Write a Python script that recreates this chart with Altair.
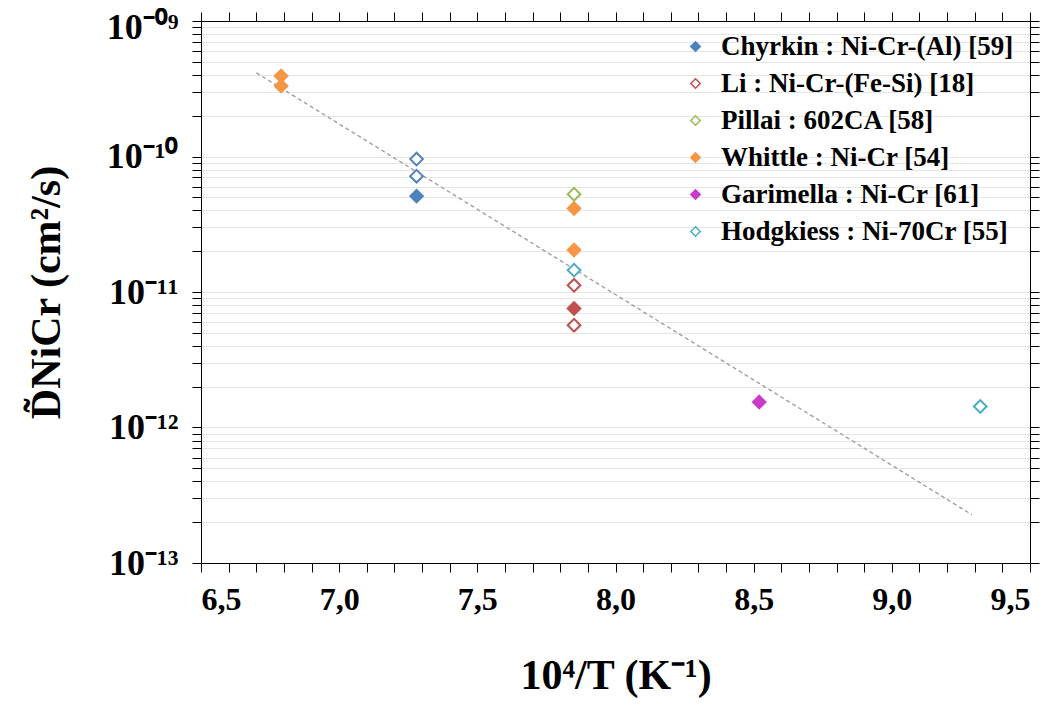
import altair as alt
import pandas as pd

# ---------------- data ----------------
series_names = [
    "Chyrkin : Ni-Cr-(Al) [59]",
    "Li : Ni-Cr-(Fe-Si) [18]",
    "Pillai : 602CA [58]",
    "Whittle : Ni-Cr [54]",
    "Garimella : Ni-Cr [61]",
    "Hodgkiess : Ni-70Cr [55]",
]
stroke_colors = ["#4F81BD", "#C0504D", "#9BBB59", "#F79646", "#C93BC9", "#4BACC6"]
fill_colors = ["#4F81BD", "white", "white", "#F79646", "#C93BC9", "white"]

chyrkin_x = [7.28]
chyrkin_y = [5.1e-11]
li_x = [7.85, 7.85]
li_y = [1.12e-11, 5.69e-12]
pillai_x = [7.85]
pillai_y = [5.27e-11]
whittle_x = [6.79, 6.79, 7.85, 7.85]
whittle_y = [3.93e-10, 3.31e-10, 4.14e-11, 2.04e-11]
garimella_x = [8.52]
garimella_y = [1.54e-12]
hodgkiess_x = [7.85, 9.32]
hodgkiess_y = [1.45e-11, 1.43e-12]

# extra points drawn in other styles (not in legend)
chyrkin_open_x = [7.28, 7.28]
chyrkin_open_y = [9.57e-11, 7.16e-11]
li_filled_x = [7.85]
li_filled_y = [7.55e-12]

# Arrhenius fit line end points
fit_x = [6.70, 9.29]
fit_y = [4.15e-10, 2.27e-13]

# axis ticks / labels
x_ticks = [round(6.5 + 0.1 * i, 1) for i in range(31)]
y_decades = [1e-13, 1e-12, 1e-11, 1e-10, 1e-9]
y_decade_labels = ["10⁻¹³", "10⁻¹²", "10⁻¹¹", "10⁻¹⁰", "10⁻⁰⁹"]
y_ticks = [m * d for d in y_decades[:-1] for m in range(1, 10)] + [1e-9]

# ---------------- build tables ----------------
rows = []
for name, xs, ys in zip(
    series_names,
    [chyrkin_x, li_x, pillai_x, whittle_x, garimella_x, hodgkiess_x],
    [chyrkin_y, li_y, pillai_y, whittle_y, garimella_y, hodgkiess_y],
):
    for xv, yv in zip(xs, ys):
        rows.append({"x": xv, "y": yv, "series": name})
pts = pd.DataFrame(rows)
chy_open = pd.DataFrame({"x": chyrkin_open_x, "y": chyrkin_open_y})
li_fill = pd.DataFrame({"x": li_filled_x, "y": li_filled_y})
fit = pd.DataFrame({"x": fit_x, "y": fit_y})

FONT = "Liberation Serif"

xscale = alt.Scale(domain=[6.5, 9.5], nice=False, zero=False)
yscale = alt.Scale(type="log", domain=[1e-13, 1e-9], nice=False)

lab_arr = "[" + ",".join("'" + s + "'" for s in y_decade_labels) + "]"
y_label_expr = (
    "abs(log(datum.value)/LN10 - round(log(datum.value)/LN10)) < 0.001 ? "
    + lab_arr
    + "[round(log(datum.value)/LN10) + 13] : ''"
)
x_label_expr = (
    "abs(datum.value*2 - round(datum.value*2)) < 0.001 ? "
    "replace(format(datum.value, '.1f'), '.', ',') : ''"
)

x_axis = alt.Axis(
    values=x_ticks,
    labelExpr=x_label_expr,
    grid=False,
    domainColor="black",
    tickColor="black",
    tickSize=9,
    labelFont=FONT,
    labelFontSize=32,
    labelFontWeight="bold",
    labelColor="black",
    labelPadding=12,
    labelOverlap=False,
    title="10⁴/T (K⁻¹)",
    titleFont=FONT,
    titleFontSize=42,
    titleFontWeight="bold",
    titleColor="black",
    titlePadding=40,
)
y_axis = alt.Axis(
    values=y_ticks,
    labelExpr=y_label_expr,
    grid=True,
    gridColor="#e6e6e6",
    gridWidth=1,
    domainColor="black",
    tickColor="black",
    tickSize=9,
    labelFont=FONT,
    labelFontSize=36,
    labelFontWeight="bold",
    labelColor="black",
    labelPadding=14,
    labelOverlap=False,
    labelBaseline="middle",
    labelOffset={"condition": {"test": "datum.value > 5e-10", "value": 6}, "value": 0},
    title="D̃NiCr (cm²/s)",
    titleFont=FONT,
    titleFontSize=42,
    titleFontWeight="bold",
    titleColor="black",
    titlePadding=38,
)
x_top = alt.Axis(orient="top", values=x_ticks, labels=False, grid=False, title=None,
                 domainColor="black", tickColor="black", tickSize=9)
y_right = alt.Axis(orient="right", values=y_ticks, labels=False, grid=False, title=None,
                   domainColor="black", tickColor="black", tickSize=9)

legend = alt.Legend(
    title=None,
    orient="none",
    legendX=481,
    legendY=12,
    labelFont=FONT,
    labelFontSize=27,
    labelFontWeight="bold",
    labelColor="black",
    labelLimit=0,
    symbolSize=90,
    symbolStrokeWidth=1.5,
    symbolType="diamond",
    rowPadding=9,
    labelOffset=12,
    padding=0,
)

line = alt.Chart(fit).mark_line(
    strokeDash=[4, 3], color="#9a9a9a", strokeWidth=1.3
).encode(
    x=alt.X("x:Q", scale=xscale, axis=x_top),
    y=alt.Y("y:Q", scale=yscale, axis=y_right),
)

main = alt.Chart(pts).mark_point(
    shape="diamond", size=160, strokeWidth=2, filled=False, opacity=1
).encode(
    x=alt.X("x:Q", scale=xscale, axis=x_axis),
    y=alt.Y("y:Q", scale=yscale, axis=y_axis),
    stroke=alt.Stroke("series:N", scale=alt.Scale(domain=series_names, range=stroke_colors),
                      legend=legend, sort=series_names),
    fill=alt.Fill("series:N", scale=alt.Scale(domain=series_names, range=fill_colors),
                  legend=legend, sort=series_names),
)

chy_layer = alt.Chart(chy_open).mark_point(
    shape="diamond", size=160, strokeWidth=2, filled=False, opacity=1,
    stroke="#4F81BD", fill="white"
).encode(
    x=alt.X("x:Q", scale=xscale, axis=None),
    y=alt.Y("y:Q", scale=yscale, axis=None),
)

li_layer = alt.Chart(li_fill).mark_point(
    shape="diamond", size=160, strokeWidth=2, filled=True, opacity=1,
    stroke="#C0504D", fill="#C0504D"
).encode(
    x=alt.X("x:Q", scale=xscale, axis=None),
    y=alt.Y("y:Q", scale=yscale, axis=None),
)

chart = alt.layer(line, main, chy_layer, li_layer).resolve_axis(
    x="independent", y="independent"
).properties(
    width=829,
    height=542,
    autosize=alt.AutoSizeParams(type="none"),
    padding={"left": 193, "top": 13, "right": 21, "bottom": 135},
    background="white",
).configure_view(stroke="black", strokeWidth=1)

chart.save("out.html", embed_options={"renderer": "svg", "actions": False})
